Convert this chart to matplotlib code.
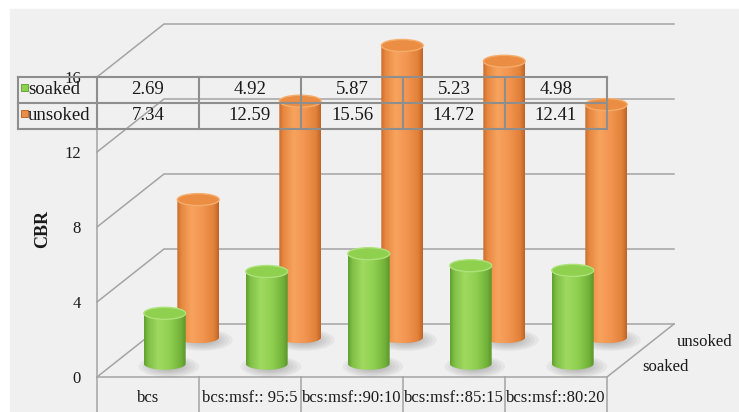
import numpy as np
import matplotlib
matplotlib.use("Agg")
import matplotlib.pyplot as plt
from matplotlib.patches import Ellipse, Rectangle, PathPatch
from matplotlib.path import Path
from matplotlib.colors import LinearSegmentedColormap

# ---- data ----
categories = ["bcs", "bcs:msf:: 95:5", "bcs:msf::90:10", "bcs:msf::85:15", "bcs:msf::80:20"]
soaked = [2.69, 4.92, 5.87, 5.23, 4.98]
unsoked = [7.34, 12.59, 15.56, 14.72, 12.41]
series_names = ["soaked", "unsoked"]
yticks = [0, 4, 8, 12, 16]

plt.rcParams["font.family"] = ["Liberation Serif", "DejaVu Serif"]
TXT = "#1a1a1a"
GRID = "#a4a4a4"
TABLE = "#8e8e8e"

W, H = 739, 412
fig = plt.figure(figsize=(W / 100, H / 100), dpi=100)
fig.patch.set_facecolor("white")
bg = Rectangle((10 / W, 0), 1 - 10 / W, (H - 9) / H,
               transform=fig.transFigure, color="#f0f0f0", zorder=-10)
fig.patches.append(bg)

# front plane of the 3-D box, in pixels
L, R, T, B = 97, 607, 77, 377
ax = fig.add_axes([L / W, (H - B) / H, (R - L) / W, (B - T) / H])
ax.set_axis_off()
ax.set_zorder(1)
ncat = len(categories)
ymax = yticks[-1]
px_x = (R - L) / ncat
px_y = (B - T) / ymax

# depth vector (pixels) converted to data units
kx = 67 / px_x
kv = 53 / px_y


def proj(x, v, d):
    return x + d * kx, v + d * kv


# ---- walls and floor ----
for v in yticks:
    p0 = proj(0, v, 0)
    p1 = proj(0, v, 1)
    p2 = proj(ncat, v, 1)
    ax.plot([p0[0], p1[0], p2[0]], [p0[1], p1[1], p2[1]], color=GRID, lw=1.1,
            zorder=1, clip_on=False, solid_joinstyle="miter")
f0 = proj(0, 0, 0)
f1 = proj(ncat, 0, 0)
f2 = proj(ncat, 0, 1)
ax.plot([f0[0], f1[0], f2[0]], [f0[1], f1[1], f2[1]], color=GRID, lw=1.1,
        zorder=1, clip_on=False)

# category separators under the floor and the front axis line
below = -(H - B) / px_y
for i in range(ncat + 1):
    top_v = ymax if i == 0 else 0
    ax.plot([i, i], [top_v, below], color=GRID, lw=1.1, zorder=1, clip_on=False)


# ---- cylinders ----
def make_cmap(name, cols):
    return LinearSegmentedColormap.from_list(name, cols)


orange_cmap = make_cmap("orange_cyl", [(0, "#c8692c"), (0.1, "#e6873f"), (0.35, "#f7a35e"),
                                       (0.6, "#f39652"), (0.88, "#e2823a"), (1, "#bf6226")])
green_cmap = make_cmap("green_cyl", [(0, "#5f9f2e"), (0.1, "#7fbf46"), (0.35, "#a0da60"),
                                     (0.62, "#8fcf50"), (0.88, "#73b23a"), (1, "#5a942a")])

A = 0.205            # half width (category units)
Bv = 6 / px_y        # half height of the elliptical ends (value units)


def shadow(cx, base, z):
    for k in range(6):
        s = 1.0 - k * 0.13
        e = Ellipse((cx + 0.04, base - 0.15), 2 * A * 1.45 * s, 2 * Bv * 1.8 * s,
                    facecolor="#6a6a6a", edgecolor="none", alpha=0.08, zorder=z,
                    clip_on=False)
        ax.add_patch(e)


def cylinder(xc, v, d, cmap, topcol, rimcol, z):
    cx, base = proj(xc, 0, d)
    _, top = proj(xc, v, d)
    shadow(cx, base, z - 0.5)
    t = np.linspace(np.pi, 2 * np.pi, 60)
    verts = [(cx - A, top), (cx - A, base)]
    verts += list(zip(cx + A * np.cos(t), base + Bv * np.sin(t)))
    verts += [(cx + A, top), (cx - A, top)]
    path = Path(verts)
    clip = PathPatch(path, transform=ax.transData, facecolor="none", edgecolor="none",
                     clip_on=False)
    ax.add_patch(clip)
    grad = np.linspace(0, 1, 256)[None, :]
    im = ax.imshow(grad, cmap=cmap, extent=[cx - A, cx + A, base - Bv, top],
                   aspect="auto", zorder=z, interpolation="bilinear")
    im.set_clip_box(fig.bbox)
    im.set_clip_path(clip)
    ax.add_patch(Ellipse((cx, top), 2 * A, 2 * Bv, facecolor=topcol,
                         edgecolor=rimcol, lw=1.0, zorder=z + 0.1, clip_on=False))


for i, v in enumerate(unsoked):
    cylinder(i + 0.5, v, 0.75, orange_cmap, "#eb8d42", "#f5ad6c", 3)
for i, v in enumerate(soaked):
    cylinder(i + 0.5, v, 0.25, green_cmap, "#8fd04f", "#aee27a", 5)

ax.set_xlim(0, ncat)
ax.set_ylim(0, ymax)

# ---- value axis ----
for v in yticks:
    ax.text(-16 / px_x, v - 2 / px_y, str(v), ha="right", va="center",
            fontsize=12, color=TXT, zorder=8, clip_on=False)
fig.text(43 / W, 1 - 229 / H, "CBR", rotation=90, ha="center", va="center",
         fontsize=13, fontweight="bold", color=TXT)

# category labels
for i, c in enumerate(categories):
    ax.text(i + 0.5, -21 / px_y, c, ha="center", va="center", fontsize=12,
            color=TXT, clip_on=False)

# depth labels
ax.text((677 - L) / px_x, (B - 342) / px_y, series_names[1], ha="left", va="center",
        fontsize=12, color=TXT, clip_on=False)
ax.text((642 - L) / px_x, (B - 367) / px_y, series_names[0], ha="left", va="center",
        fontsize=12, color=TXT, clip_on=False)

# ---- data table ----
row_h = 26 / px_y
tab_left = (18 - L) / px_x
rows_top = ymax
rows = [rows_top, rows_top - row_h, rows_top - 2 * row_h]
for ry in rows:
    ax.plot([tab_left, ncat], [ry, ry], color=TABLE, lw=1.5, zorder=10, clip_on=False)
for xx in [tab_left] + list(range(ncat + 1)):
    ax.plot([xx, xx], [rows[0], rows[-1]], color=TABLE, lw=1.5, zorder=10, clip_on=False)

swatch_cols = ["#8fd04f", "#eb8d42"]
swatch_edge = ["#5a9a2a", "#b45c22"]
for r, (name, vals) in enumerate(zip(series_names, [soaked, unsoked])):
    yc = rows[r] - row_h / 2
    ax.add_patch(Rectangle(((21 - L) / px_x, yc - 1 / px_y), 7 / px_x, 7 / px_y,
                           facecolor=swatch_cols[r], edgecolor=swatch_edge[r], lw=0.6,
                           zorder=11, clip_on=False))
    ax.text((28 - L) / px_x, yc, name, ha="left", va="center", fontsize=13.5,
            color=TXT, zorder=11, clip_on=False)
    for i, v in enumerate(vals):
        ax.text(i + 0.5, yc, f"{v:.2f}", ha="center", va="center", fontsize=13.5,
                color=TXT, zorder=11, clip_on=False)

fig.savefig("out.png", dpi=100, facecolor=fig.get_facecolor())
